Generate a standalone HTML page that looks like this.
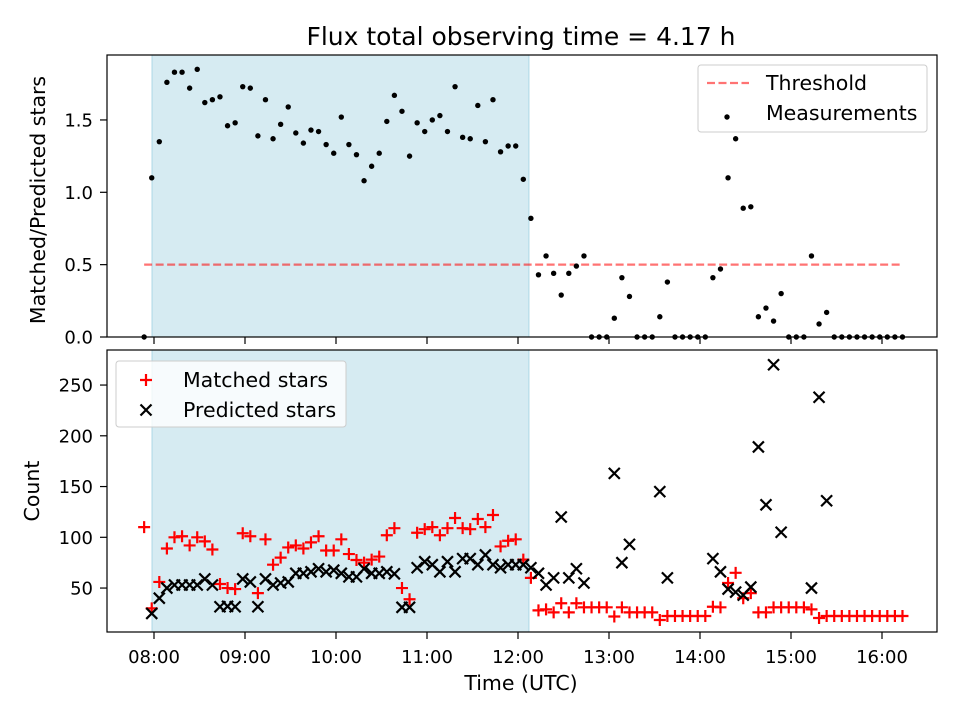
<!DOCTYPE html>
<html><head><meta charset="utf-8"><style>
body{margin:0;background:#fff}
svg text{font-family:"DejaVu Sans","Liberation Sans",sans-serif;fill:#000}
</style></head><body>
<svg id="chart" width="960" height="720" xmlns="http://www.w3.org/2000/svg">
<rect width="960" height="720" fill="#fff"/>
<text x="521" y="45" font-size="25" text-anchor="middle">Flux total observing time = 4.17 h</text>
<g id="gtop"></g><g id="gbot"></g>
</svg>
<script>
const tickLabels=["08:00","09:00","10:00","11:00","12:00","13:00","14:00","15:00","16:00"];
const tickMinutes=[0,60,120,180,240,300,360,420,480];
const startMinute=-6.5, stepMinutes=5;
const spanStart=-1.3, spanEnd=247.2;
const threshold=0.5;
const ratio=[0,1.10,1.35,1.76,1.83,1.83,1.72,1.85,1.62,1.64,1.66,1.46,1.48,1.73,1.72,1.39,1.64,1.37,1.47,1.59,1.41,1.34,1.43,1.42,1.33,1.27,1.52,1.33,1.26,1.08,1.18,1.27,1.49,1.67,1.56,1.25,1.48,1.42,1.50,1.53,1.42,1.73,1.38,1.37,1.60,1.35,1.64,1.28,1.32,1.32,1.09,0.82,0.43,0.56,0.44,0.29,0.44,0.49,0.56,0,0,0,0.13,0.41,0.28,0,0,0,0.14,0.38,0,0,0,0,0,0.41,0.47,1.10,1.37,0.89,0.90,0.14,0.20,0.11,0.30,0,0,0,0.56,0.09,0.17,0,0,0,0,0,0,0,0,0,0];
const matched=[110,30,56,89,100,101,92,100,96,88,54,50,49,104,101,45,98,73,80,90,92,89,95,101,87,87,98,83.5,77.6,75,78,81,102,109,50,39,104.5,108,110,102,109,119,109,108,118,110,122,91,96.6,98,78,60,28,29,26,35,26,35,31,31,31,31,22,31,26,26,26,26,18.5,22.5,22.5,22.5,22.5,22.5,22.5,31.6,31,55,65,40,45,26,26,31,31,31,31,31,29,20.5,22.5,22.5,22.5,22.5,22.5,22.5,22.5,22.5,22.5,22.5,22.5];
const predicted=[null,25,40,50,53,53,53,53,59,53,31.6,32,31.6,59,56,31.6,59,53,55,56,64.5,64.5,66,69,66,67.6,64.5,61,61,69,64.5,64.5,66,64,31,31,70,76,73,66,76,66,79,79,73,82.6,73,70,73,73,73,70,64.5,53,60,120,60,69,55,null,null,null,163,75,93,null,null,null,145,60,null,null,null,null,null,79,66,49,46,43,51,189,132,270,105,null,null,null,50,238,136,null,null,null,null,null,null,null,null,null,null];
const topTicks=[0,0.5,1.0,1.5], topTickLabels=["0.0","0.5","1.0","1.5"];
const botTicks=[50,100,150,200,250], botTickLabels=["50","100","150","200","250"];

const NS="http://www.w3.org/2000/svg";
const X0=107,X1=937;
const xs=m=>154+m*(91/60);
const ysTop=v=>337-v*144.7;
const ysBot=v=>638.8-v*1.015;
function el(p,t,a){const e=document.createElementNS(NS,t);for(const k in a)e.setAttribute(k,a[k]);p.appendChild(e);return e;}
const gTop=document.getElementById('gtop'),gBot=document.getElementById('gbot');

function panel(g,yt,y0,y1,ticks,labels,name){
  const s=el(g,'rect',{x:xs(spanStart),y:y0,width:xs(spanEnd)-xs(spanStart),height:y1-y0,fill:'#add8e6','fill-opacity':0.5,stroke:'#add8e6','stroke-width':1});
  
  
  ticks.forEach((t,i)=>{const y=yt(t);
    el(g,'line',{x1:X0-7,x2:X0,y1:y,y2:y,stroke:'#000','stroke-width':1.2});
    const tx=el(g,'text',{x:X0-14,y:y+6.5,'font-size':18,'text-anchor':'end'});tx.textContent=labels[i];
    
    
  });
  tickMinutes.forEach(m=>{el(g,'line',{x1:xs(m),x2:xs(m),y1:y1,y2:y1+7,stroke:'#000','stroke-width':1.2});});
}
panel(gTop,ysTop,55,337,topTicks,topTickLabels,'top');
panel(gBot,ysBot,350,632,botTicks,botTickLabels,'bottom');

const th=el(gTop,'line',{x1:xs(startMinute),x2:xs(startMinute+100*stepMinutes),y1:ysTop(threshold),y2:ysTop(threshold),stroke:'#ff0000','stroke-opacity':0.55,'stroke-width':2.2,'stroke-dasharray':'8,3.5'});


ratio.forEach((v,i)=>{const c=el(gTop,'circle',{cx:xs(startMinute+i*stepMinutes),cy:ysTop(v),r:2.7,fill:'#000'});
  
  });
function plus(g,x,y){return el(g,'path',{d:`M${x-6},${y}H${x+6}M${x},${y-6}V${y+6}`,stroke:'#ff0000','stroke-width':2.2,fill:'none'});}
function cross(g,x,y){return el(g,'path',{d:`M${x-5.5},${y-5.5}L${x+5.5},${y+5.5}M${x-5.5},${y+5.5}L${x+5.5},${y-5.5}`,stroke:'#000','stroke-width':2.2,fill:'none'});}
matched.forEach((v,i)=>{if(v==null)return;const p=plus(gBot,xs(startMinute+i*stepMinutes),ysBot(v));
  
  });
predicted.forEach((v,i)=>{if(v==null)return;const p=cross(gBot,xs(startMinute+i*stepMinutes),ysBot(v));
  
  });
el(gTop,'rect',{x:X0,y:55,width:X1-X0,height:282,fill:'none',stroke:'#000','stroke-width':1.2});
el(gBot,'rect',{x:X0,y:350,width:X1-X0,height:282,fill:'none',stroke:'#000','stroke-width':1.2});
tickLabels.forEach((l,i)=>{const t=el(gBot,'text',{x:xs(tickMinutes[i]),y:663,'font-size':18,'text-anchor':'middle'});t.textContent=l;
  
  });
</script>
<svg style="position:absolute;left:0;top:0" width="960" height="720" xmlns="http://www.w3.org/2000/svg">
<text x="521" y="690" font-size="20.5" text-anchor="middle">Time (UTC)</text>
<text transform="translate(45,200) rotate(-90)" font-size="20.5" text-anchor="middle">Matched/Predicted stars</text>
<text transform="translate(39,491) rotate(-90)" font-size="20.5" text-anchor="middle">Count</text>
<g>
<rect x="698" y="65" width="229" height="67" rx="3" fill="#fff" fill-opacity="0.8" stroke="#ccc"/>
<line x1="707" x2="749" y1="83" y2="83" stroke="#ff0000" stroke-opacity="0.55" stroke-width="2.2" stroke-dasharray="8,3.5"/>
<text x="766" y="90" font-size="20.5">Threshold</text>
<circle cx="727" cy="117" r="2.7" fill="#000"/>
<text x="766" y="120" font-size="20.5">Measurements</text>
</g>
<g>
<rect x="116" y="361" width="230" height="66" rx="3" fill="#fff" fill-opacity="0.8" stroke="#ccc"/>
<path d="M140,380H152M146,374V386" stroke="#ff0000" stroke-width="2.2"/>
<text x="183" y="387" font-size="20.5">Matched stars</text>
<path d="M140.5,404.5L151.5,415.5M140.5,415.5L151.5,404.5" stroke="#000" stroke-width="2.2"/>
<text x="183" y="417" font-size="20.5">Predicted stars</text>
</g>
</svg>
</body></html>
